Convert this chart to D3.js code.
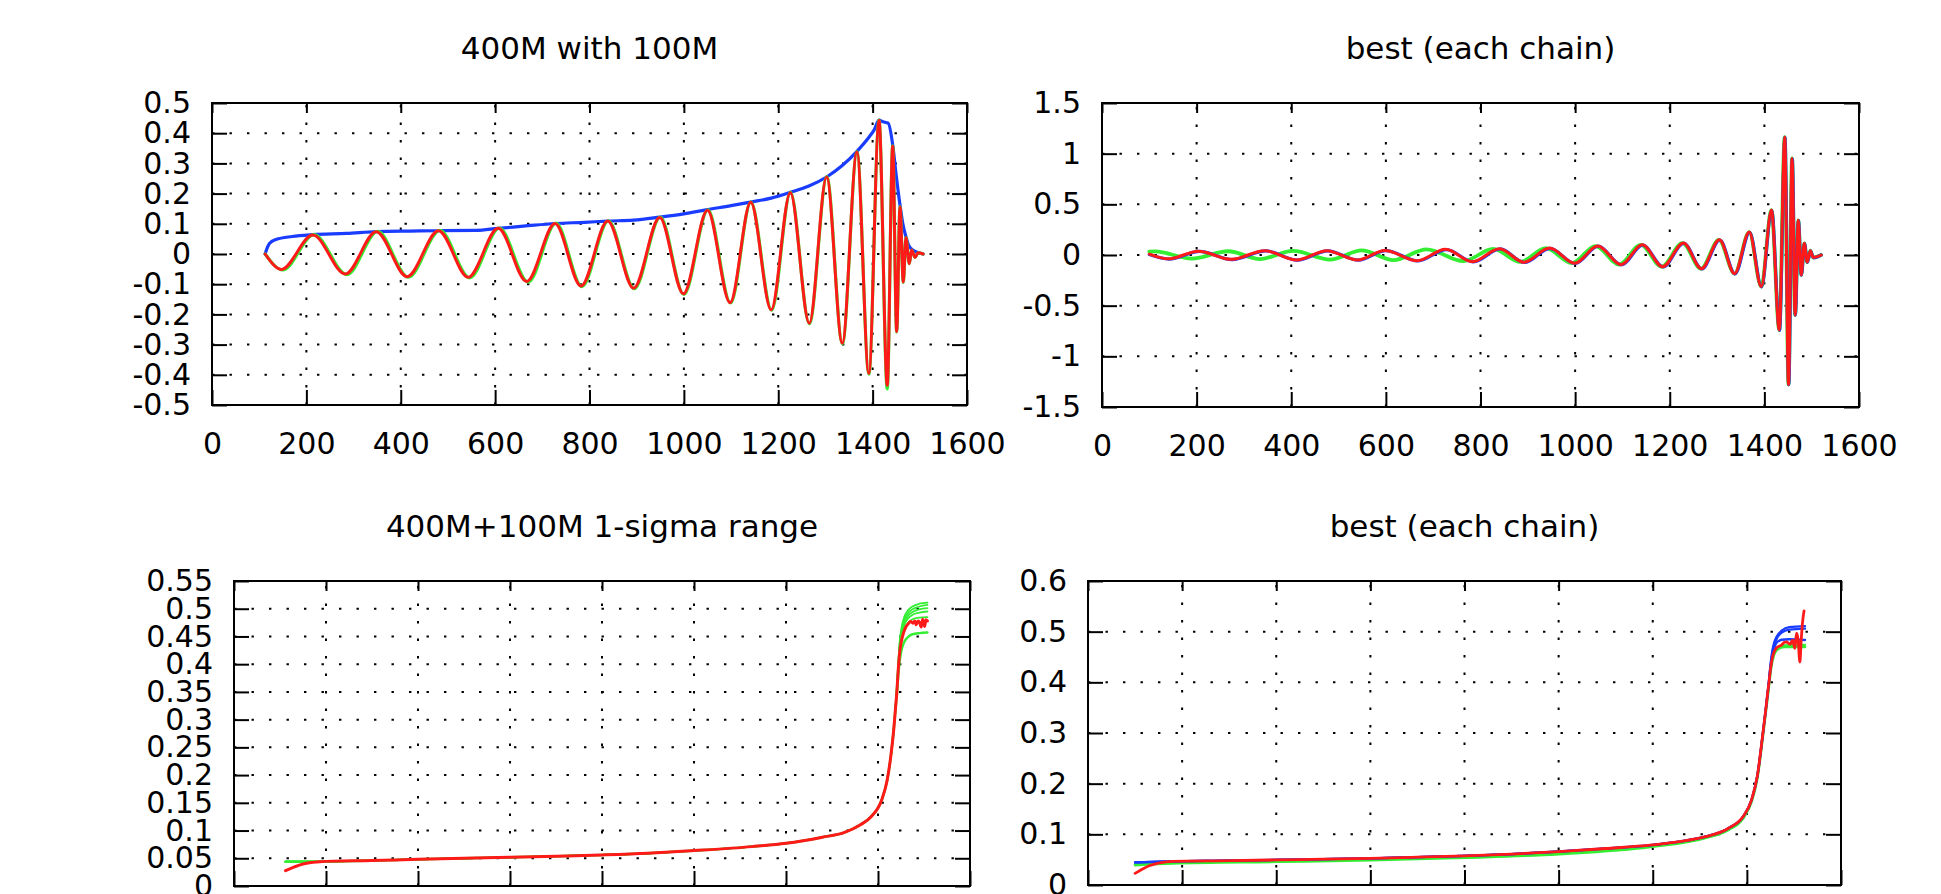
<!DOCTYPE html>
<html><head><meta charset="utf-8">
<script src="https://cdn.jsdelivr.net/npm/d3@7"></script>
<style>
body{margin:0;background:#fff}
svg text{font-family:"DejaVu Sans",sans-serif;fill:#000}
</style>
</head><body>
<svg id="chart" width="1941" height="894"></svg>
<script>
// ---------- tick values & labels ----------
const xTicks = [0,200,400,600,800,1000,1200,1400,1600];
const xLabels = ["0","200","400","600","800","1000","1200","1400","1600"];
const y1Ticks = [-0.5,-0.4,-0.3,-0.2,-0.1,0,0.1,0.2,0.3,0.4,0.5];
const y1Labels = ["-0.5","-0.4","-0.3","-0.2","-0.1","0","0.1","0.2","0.3","0.4","0.5"];
const y2Ticks = [-1.5,-1,-0.5,0,0.5,1,1.5];
const y2Labels = ["-1.5","-1","-0.5","0","0.5","1","1.5"];
const y3Ticks = [0,0.05,0.1,0.15,0.2,0.25,0.3,0.35,0.4,0.45,0.5,0.55];
const y3Labels = ["0","0.05","0.1","0.15","0.2","0.25","0.3","0.35","0.4","0.45","0.5","0.55"];
const y4Ticks = [0,0.1,0.2,0.3,0.4,0.5,0.6];
const y4Labels = ["0","0.1","0.2","0.3","0.4","0.5","0.6"];
const titles = ["400M with 100M","best (each chain)","400M+100M 1-sigma range","best (each chain)"];

// ---------- panel 1 : 400M with 100M ----------
const p1Blue = [[112.6,0],[117,0.02],[121.7,0.035],[135.5,0.048],[170,0.058],[213.6,0.064],[285,0.068],[348,0.074],[420,0.076],[480,0.077],[560,0.078],[606.5,0.085],[660,0.092],[727,0.101],[790,0.105],[838.5,0.109],[893.6,0.112],[948.8,0.122],[1000,0.133],[1050,0.147],[1100,0.160],[1141.7,0.172],[1185,0.185],[1225.6,0.204],[1265,0.225],[1302.5,0.255],[1335,0.292],[1366.8,0.340],[1393,0.388],[1403,0.41],[1413.5,0.443],[1422,0.438],[1433,0.433],[1442.5,0.362],[1450,0.26],[1458,0.162],[1464,0.1],[1470.6,0.057],[1476,0.03],[1482.7,0.016],[1493,0.007],[1507,0]];
const p1Green = [[112.6,0],[150,-0.053],[216,0.064],[286,-0.068],[351,0.075],[416,-0.077],[483,0.078],[546,-0.079],[609,0.086],[670,-0.093],[729,0.102],[784,-0.108],[840,0.110],[895,-0.115],[950,0.122],[1000,-0.134],[1051,0.146],[1099,-0.162],[1142,0.172],[1186,-0.186],[1226,0.204],[1266,-0.231],[1303,0.256],[1336,-0.297],[1367,0.339],[1392,-0.398],[1413.5,0.443],[1431,-0.447],[1442.5,0.358],[1451,-0.258],[1458,0.157],[1465,-0.094],[1470.6,0.054],[1477.7,-0.032],[1482.7,0.013],[1490,-0.011],[1496,0.004],[1507,0]];
const p1Red = [[112.6,0],[147,-0.051],[213.6,0.063],[282.6,-0.066],[348,0.074],[413.5,-0.075],[480,0.077],[543,-0.077],[606.5,0.085],[667,-0.091],[727,0.101],[782,-0.106],[838.5,0.109],[893.6,-0.113],[948.8,0.121],[999,-0.132],[1050,0.145],[1098,-0.161],[1141.7,0.171],[1185,-0.185],[1225.6,0.203],[1265.8,-0.229],[1302.5,0.255],[1335.8,-0.295],[1366.8,0.338],[1392,-0.396],[1413.5,0.443],[1431,-0.435],[1442.5,0.357],[1451,-0.257],[1458,0.156],[1465,-0.093],[1470.6,0.054],[1477.7,-0.032],[1482.7,0.013],[1490,-0.011],[1496,0.004],[1507,0]];

// ---------- panel 2 : best (each chain) waveforms ----------
const p2Green = [[100,0.033],[112,0.035],[190,-0.035],[267,0.037],[334,-0.040],[404,0.040],[482,-0.045],[549,0.045],[616,-0.050],[686,0.055],[764,-0.060],[827,0.060],[884,-0.068],[938,0.068],[993,-0.080],[1043,0.088],[1093,-0.094],[1139,0.100],[1183,-0.115],[1227,0.118],[1266,-0.135],[1304,0.150],[1337,-0.184],[1368,0.226],[1393.5,-0.312],[1415,0.443],[1431.5,-0.74],[1443,1.163],[1451,-1.278],[1458.5,0.953],[1465,-0.591],[1471.7,0.342],[1477.8,-0.197],[1484.3,0.115],[1490.5,-0.07],[1497,0.042],[1503.3,-0.025],[1520,0]];
const p2Blue = [[100,0.004],[142,-0.040],[206,0.036],[275,-0.045],[346,0.041],[413,-0.051],[477,0.041],[542,-0.051],[600,0.043],[668,-0.059],[728,0.054],[785,-0.068],[842,0.060],[893,-0.074],[947,0.066],[1000,-0.084],[1049,0.087],[1098,-0.097],[1143,0.098],[1186,-0.117],[1230,0.116],[1268,-0.137],[1306,0.148],[1338,-0.186],[1369,0.224],[1394,-0.314],[1415.5,0.441],[1432,-0.742],[1443.5,1.160],[1451.5,-1.280],[1459,0.950],[1465.5,-0.593],[1472,0.340],[1478.3,-0.199],[1484.8,0.113],[1491,-0.072],[1497.5,0.040],[1503.8,-0.027],[1520,0]];
const p2Red = [[100,0.008],[140,-0.038],[204,0.038],[273,-0.043],[344,0.043],[411,-0.049],[475,0.043],[540,-0.049],[598,0.045],[666,-0.057],[726,0.056],[783,-0.066],[840,0.062],[892,-0.072],[946,0.068],[999,-0.082],[1048,0.089],[1097,-0.095],[1142,0.100],[1185,-0.115],[1229,0.118],[1267,-0.135],[1305,0.150],[1337,-0.184],[1368,0.226],[1393.5,-0.312],[1415,0.443],[1431.5,-0.74],[1443,1.163],[1451,-1.278],[1458.5,0.953],[1465,-0.591],[1471.7,0.342],[1477.8,-0.197],[1484.3,0.115],[1490.5,-0.07],[1497,0.042],[1503.3,-0.025],[1520,0]];

// ---------- panel 3 : 1-sigma range ----------
const p3Base = [[186,0.0439],[300,0.046],[400,0.0481],[500,0.050],[601,0.0518],[700,0.0538],[800,0.056],[900,0.059],[1000,0.0638],[1126,0.071],[1200,0.077],[1279,0.088],[1326,0.0963],[1361,0.110],[1385,0.125],[1408,0.155],[1420,0.191],[1428,0.235],[1434,0.28],[1438,0.32]];
const p3GreenStart = [[112,0.0438]];
const p3RedStart = [[112,0.0277],[130,0.034],[150,0.0397],[170,0.0425]];
const p3GreenTailA = [[1441,0.36],[1444,0.40],[1447,0.44],[1451,0.465],[1457,0.485],[1465,0.497],[1475,0.504],[1490,0.509],[1507.5,0.511]];
const p3GreenTailB = [[1441,0.36],[1444,0.40],[1447,0.435],[1451,0.46],[1457,0.48],[1465,0.492],[1475,0.499],[1490,0.504],[1507.5,0.507]];
const p3GreenTailC = [[1441,0.355],[1444,0.395],[1447,0.43],[1451,0.455],[1457,0.475],[1465,0.487],[1475,0.494],[1490,0.499],[1507.5,0.501]];
const p3GreenTailD = [[1441,0.355],[1444,0.395],[1447,0.425],[1451,0.45],[1457,0.47],[1465,0.482],[1475,0.489],[1490,0.493],[1507.5,0.495]];
const p3GreenTailE = [[1441,0.35],[1444,0.39],[1447,0.42],[1451,0.443],[1457,0.462],[1465,0.474],[1475,0.481],[1490,0.484],[1507.5,0.485]];
const p3GreenTailF = [[1441,0.345],[1444,0.38],[1447,0.405],[1451,0.425],[1457,0.44],[1465,0.449],[1475,0.454],[1490,0.456],[1507.5,0.457]];
const p3RedTail = [[1441,0.35],[1444,0.39],[1447,0.42],[1450,0.438],[1455,0.455],[1460.5,0.467],[1466,0.473],[1471,0.477],[1476,0.474],[1480,0.478],[1483,0.471],[1487,0.478],[1490,0.476],[1494,0.467],[1497,0.481],[1501.5,0.468],[1504,0.480],[1507.5,0.478]];

// ---------- panel 4 : best (each chain) ----------
const p4Base = [[179,0.0467],[300,0.048],[400,0.0495],[500,0.051],[600,0.0526],[700,0.055],[800,0.0575],[900,0.061],[1000,0.066],[1100,0.072],[1199,0.079],[1260,0.086],[1312,0.0954],[1361,0.112],[1392,0.135],[1410,0.168],[1422,0.214],[1434,0.299],[1440,0.345],[1444,0.378]];
const p4BlueStart = [[100,0.0447]];
const p4RedStart = [[100,0.023],[115,0.031],[130,0.038],[150,0.043]];
const p4Green = [[100,0.0395],[179,0.0428],[400,0.046],[600,0.049],[800,0.054],[1000,0.061],[1199,0.0757],[1312,0.093],[1361,0.109],[1392,0.132],[1410,0.165],[1422,0.21],[1434,0.295],[1444,0.372],[1447,0.395],[1450,0.42],[1456,0.45],[1465,0.465],[1480,0.47],[1523.6,0.47]];
const p4GreenB = [[100,0.041],[179,0.044],[400,0.047],[600,0.0505],[800,0.055],[1000,0.062],[1199,0.077],[1312,0.094],[1361,0.110],[1392,0.133],[1410,0.166],[1422,0.212],[1434,0.297],[1444,0.375],[1447,0.398],[1450,0.423],[1456,0.454],[1465,0.469],[1480,0.473],[1523.6,0.474]];
const p4BlueTailA = [[1447,0.405],[1450,0.435],[1455,0.468],[1463,0.49],[1474,0.502],[1490,0.509],[1523.6,0.511]];
const p4BlueTailB = [[1447,0.403],[1450,0.43],[1455,0.462],[1463,0.485],[1474,0.498],[1490,0.504],[1523.6,0.506]];
const p4BlueTailC = [[1447,0.40],[1450,0.425],[1455,0.455],[1463,0.478],[1474,0.484],[1490,0.485],[1523.6,0.4835]];
const p4RedTail = [[1447,0.40],[1450,0.425],[1455,0.452],[1463,0.468],[1474,0.474],[1480,0.479],[1484.6,0.48],[1491.7,0.475],[1497,0.4835],[1502,0.467],[1505.5,0.497],[1509,0.483],[1512.6,0.44],[1515.4,0.483],[1518,0.516],[1521.5,0.541]];

// ---------- drawing ----------
const RED = "#ff1a1a", GREEN = "#33ee33", BLUE = "#1a3cff";
const svg = d3.select("#chart");
const FS = 30, TFS = 31;

const panels = [
  {title: titles[0], l:212, r:967, t:103, b:405, yDomain:[-0.5,0.5], yTicks:y1Ticks, yLabels:y1Labels, xLab:true,
   series:[{d:p1Blue,c:BLUE,w:3.2},{d:p1Green,c:GREEN,w:3.2},{d:p1Red,c:RED,w:3}]},
  {title: titles[1], l:1102, r:1859, t:103, b:407, yDomain:[-1.5,1.5], yTicks:y2Ticks, yLabels:y2Labels, xLab:true,
   series:[{d:p2Green,c:GREEN,w:3.8},{d:p2Blue,c:BLUE,w:3.2},{d:p2Red,c:RED,w:3}]},
  {title: titles[2], l:234, r:970, t:581, b:886, yDomain:[0,0.55], yTicks:y3Ticks, yLabels:y3Labels, xLab:false,
   series:[
     {d:p3GreenStart.concat(p3Base,p3GreenTailA),c:GREEN,w:1.8},
     {d:p3GreenStart.concat(p3Base,p3GreenTailB),c:GREEN,w:1.8},
     {d:p3GreenStart.concat(p3Base,p3GreenTailC),c:GREEN,w:1.8},
     {d:p3GreenStart.concat(p3Base,p3GreenTailD),c:GREEN,w:1.8},
     {d:p3GreenStart.concat(p3Base,p3GreenTailE),c:GREEN,w:1.8},
     {d:p3GreenStart.concat(p3Base,p3GreenTailF),c:GREEN,w:2.5},
     {d:p3RedStart.concat(p3Base,p3RedTail),c:RED,w:3}]},
  {title: titles[3], l:1088, r:1841, t:581, b:885, yDomain:[0,0.6], yTicks:y4Ticks, yLabels:y4Labels, xLab:false,
   series:[
     {d:p4Green,c:GREEN,w:2.8},{d:p4GreenB,c:GREEN,w:2.2},
     {d:p4BlueStart.concat(p4Base,p4BlueTailA),c:BLUE,w:2.2},
     {d:p4BlueStart.concat(p4Base,p4BlueTailB),c:BLUE,w:2.2},
     {d:p4BlueStart.concat(p4Base,p4BlueTailC),c:BLUE,w:2.4},
     {d:p4RedStart.concat(p4Base,p4RedTail),c:RED,w:2.8}]}
];

panels.forEach((p, i) => {
  const x = d3.scaleLinear().domain([0,1600]).range([p.l, p.r]);
  const y = d3.scaleLinear().domain(p.yDomain).range([p.b, p.t]);
  const g = svg.append("g");

  // grid (dotted)
  g.append("g").selectAll("line").data(p.yTicks.slice(1,-1)).join("line")
    .attr("x1", p.l).attr("x2", p.r).attr("y1", d=>y(d)).attr("y2", d=>y(d))
    .attr("stroke","#000").attr("stroke-width",2).attr("stroke-dasharray","2.4,15.1");
  g.append("g").selectAll("line").data(xTicks.slice(1,-1)).join("line")
    .attr("y1", p.b).attr("y2", p.t).attr("x1", d=>x(d)).attr("x2", d=>x(d))
    .attr("stroke","#000").attr("stroke-width",2).attr("stroke-dasharray","2.4,15.1");

  // clip
  const cid = "clip"+i;
  svg.append("clipPath").attr("id",cid).append("rect")
    .attr("x",p.l).attr("y",p.t).attr("width",p.r-p.l).attr("height",p.b-p.t);

  const line = d3.line().x(d=>x(d[0])).y(d=>y(d[1])).curve(d3.curveMonotoneX);
  const sg = g.append("g").attr("clip-path","url(#"+cid+")");
  p.series.forEach(s => {
    sg.append("path").attr("d", line(s.d)).attr("fill","none")
      .attr("stroke", s.c).attr("stroke-width", s.w)
      .attr("stroke-linejoin","round").attr("stroke-linecap","round");
  });

  // axes
  const axL = d3.axisLeft(y).tickValues(p.yTicks).tickFormat((d,k)=>p.yLabels[k]).tickSize(-15).tickPadding(21);
  const axR = d3.axisRight(y).tickValues(p.yTicks).tickFormat("").tickSize(-15);
  const axB = d3.axisBottom(x).tickValues(xTicks).tickFormat((d,k)=>p.xLab ? xLabels[k] : "").tickSize(-15).tickPadding(27.5);
  const axT = d3.axisTop(x).tickValues(xTicks).tickFormat("").tickSize(-10);
  [[axL,`translate(${p.l},0)`],[axR,`translate(${p.r},0)`],[axB,`translate(0,${p.b})`],[axT,`translate(0,${p.t})`]]
    .forEach(([ax,tr]) => {
      const a = g.append("g").attr("transform",tr).call(ax);
      a.select(".domain").remove();
      a.selectAll(".tick line").attr("stroke","#000").attr("stroke-width",2);
      a.attr("font-size",FS).attr("font-family","DejaVu Sans, sans-serif");
      a.selectAll("text").attr("fill","#000");
      a.selectAll("text").filter(function(){ return this.textContent === ""; }).remove();
    });

  // frame
  g.append("rect").attr("x",p.l).attr("y",p.t).attr("width",p.r-p.l).attr("height",p.b-p.t)
    .attr("fill","none").attr("stroke","#000").attr("stroke-width",2);

  // title
  g.append("text").attr("x",(p.l+p.r)/2).attr("y",p.t-44.5).attr("text-anchor","middle")
    .attr("font-size",TFS).text(p.title);
});
</script>
</body></html>
